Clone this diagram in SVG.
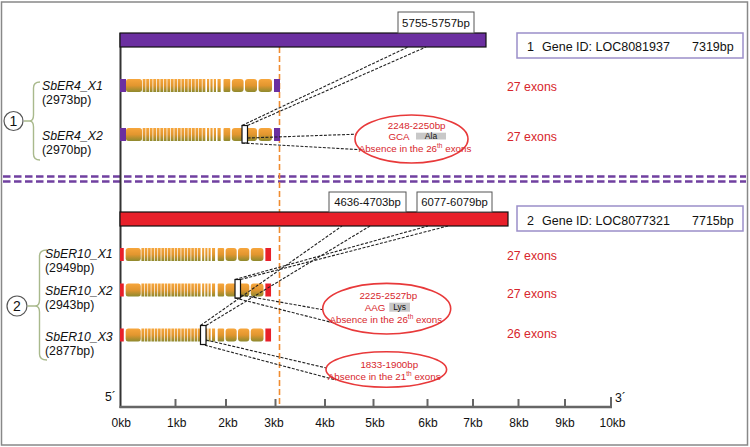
<svg xmlns="http://www.w3.org/2000/svg" width="750" height="447" viewBox="0 0 750 447">
<style>
text{font-family:"Liberation Sans",Arial,sans-serif;}
.lbl{font-size:12.3px;fill:#111;}
.it{font-style:italic;}
.red{fill:#d7262c;font-size:12.3px;}
.ell{fill:#fff;stroke:#e8393a;stroke-width:1.6;}
.et{fill:#d7262c;font-size:9.8px;text-anchor:middle;}
.box{fill:#fff;stroke:#555;stroke-width:1;}
.gid{fill:#fff;stroke:#9b8ec9;stroke-width:1.5;}
.dash{stroke:#222;stroke-width:1.1;stroke-dasharray:3 1.5;fill:none;}
.mk{fill:#fff;stroke:#111;stroke-width:1.2;}
.brace{fill:none;stroke:#a9b98c;stroke-width:1.4;}
.tick{stroke:#666;stroke-width:2;}
.ax{font-size:12px;fill:#111;text-anchor:middle;}
</style>
<defs>
<linearGradient id="og" gradientUnits="userSpaceOnUse" x1="0" y1="0" x2="0" y2="13">
<stop offset="0" stop-color="#f7a63c"/>
<stop offset="0.5" stop-color="#e2962f"/>
<stop offset="1" stop-color="#8e8a2e"/>
</linearGradient>
<g id="exons" fill="url(#og)">
<rect x="6" y="0" width="16" height="13" rx="2.5"/>
<line x1="22.7" y1="6.5" x2="86" y2="6.5" stroke="url(#og)" stroke-width="13" stroke-dasharray="2.8 0.72"/>
<rect x="87" y="0" width="2.2" height="13"/>
<rect x="90.4" y="0" width="2.2" height="13"/>
<rect x="93.8" y="0" width="2.2" height="13"/>
<rect x="97.5" y="0" width="3.2" height="13"/>
<rect x="103.5" y="0" width="6.8" height="13" rx="1"/>
<rect x="111.8" y="0" width="11.8" height="13" rx="3"/>
<rect x="125" y="0" width="12" height="13" rx="3"/>
<rect x="138.5" y="0" width="13.5" height="13" rx="3"/>
</g>
<g id="tx1">
<use href="#exons"/>
<rect x="0" y="0" width="6" height="13" fill="#6b2fa0"/>
<rect x="154" y="0" width="6" height="13" fill="#6b2fa0"/>
</g>
<g id="tx2">
<use href="#exons"/>
<rect x="0" y="0" width="4" height="13" fill="#e8202a"/>
<rect x="154" y="0" width="6" height="13" fill="#e8202a"/>
</g>
</defs>

<rect x="1.5" y="2" width="746" height="443" fill="#fff" stroke="#888" stroke-width="1.5"/>

<!-- separator -->
<g id="separator" stroke="#7040a0" stroke-width="2.5" stroke-dasharray="7.5 3.5">
<line x1="3" y1="176.5" x2="746" y2="176.5"/>
<line x1="3" y1="181.5" x2="746" y2="181.5"/>
</g>

<!-- axis -->
<g id="axis">
<line x1="120.5" y1="33" x2="120.5" y2="408" stroke="#333" stroke-width="2"/>
<line x1="119.5" y1="407" x2="612" y2="407" stroke="#666" stroke-width="2.5"/>
<line class="tick" x1="175.5" y1="399" x2="175.5" y2="407"/>
<line class="tick" x1="226" y1="399" x2="226" y2="407"/>
<line class="tick" x1="275.5" y1="399" x2="275.5" y2="407"/>
<line class="tick" x1="325" y1="399" x2="325" y2="407"/>
<line class="tick" x1="373.5" y1="399" x2="373.5" y2="407"/>
<line class="tick" x1="427.5" y1="399" x2="427.5" y2="407"/>
<line class="tick" x1="473" y1="399" x2="473" y2="407"/>
<line class="tick" x1="518.5" y1="399" x2="518.5" y2="407"/>
<line class="tick" x1="565" y1="399" x2="565" y2="407"/>
<line class="tick" x1="611" y1="397" x2="611" y2="408"/>
<text class="ax" x="121.3" y="426.5">0kb</text>
<text class="ax" x="176.7" y="426.5">1kb</text>
<text class="ax" x="228" y="426.5">2kb</text>
<text class="ax" x="274" y="426.5">3kb</text>
<text class="ax" x="325" y="426.5">4kb</text>
<text class="ax" x="375" y="426.5">5kb</text>
<text class="ax" x="428" y="426.5">6kb</text>
<text class="ax" x="473" y="426.5">7kb</text>
<text class="ax" x="519" y="426.5">8kb</text>
<text class="ax" x="565" y="426.5">9kb</text>
<text class="ax" x="612.5" y="426.5">10kb</text>
<text class="lbl" x="105" y="400.5">5´</text>
<text class="lbl" x="615" y="401.5">3´</text>
</g>

<!-- orange reference line -->
<line id="ref3kb" x1="279.5" y1="47" x2="279.5" y2="406" stroke="#f08c30" stroke-width="1.6" stroke-dasharray="6 3"/>

<!-- Gene 1 -->
<g id="gene1">
<rect x="120" y="33" width="366" height="14" fill="#6b2fa0" stroke="#111" stroke-width="1.2"/>
<rect class="box" x="398" y="12" width="76" height="21"/>
<text x="436" y="26.5" font-size="11.5" text-anchor="middle" fill="#111">5755-5757bp</text>
</g>
<g id="geneid1">
<rect class="gid" x="517" y="33" width="226" height="25"/>
<text x="527" y="50.5" font-size="12.5" fill="#111">1</text>
<text x="542" y="50.5" font-size="12.5" fill="#111">Gene ID: LOC8081937</text>
<text x="692" y="50.5" font-size="12.5" fill="#111">7319bp</text>
</g>

<g id="group1">
<circle cx="13.5" cy="121" r="9.5" fill="#fff" stroke="#555" stroke-width="1.2"/>
<text x="13.5" y="126" font-size="14" text-anchor="middle" fill="#111">1</text>
<path class="brace" d="M24 121 H29.5 M40 82 Q33.5 82 33.5 88 L33.5 115 Q33.5 121 29.5 121 Q33.5 121 33.5 127 L33.5 154 Q33.5 160 40 160"/>
</g>

<g id="SbER4_X1">
<use href="#tx1" transform="translate(120,79)"/>
<text class="lbl it" x="42" y="90">SbER4_X1</text>
<text class="lbl" x="42" y="103.5">(2973bp)</text>
<text class="red" x="507" y="90.5">27 exons</text>
</g>
<g id="SbER4_X2">
<use href="#tx1" transform="translate(120,128)"/>
<text class="lbl it" x="42" y="140">SbER4_X2</text>
<text class="lbl" x="42" y="153.5">(2970bp)</text>
<text class="red" x="507" y="140.5">27 exons</text>
</g>

<!-- Gene 2 -->
<g id="gene2">
<rect x="120" y="212" width="388" height="14" fill="#e8202a" stroke="#111" stroke-width="1.2"/>
<rect class="box" x="329" y="192" width="77" height="20"/>
<text x="367.5" y="206" font-size="11.3" text-anchor="middle" fill="#111">4636-4703bp</text>
<rect class="box" x="417" y="192" width="75" height="20"/>
<text x="454.5" y="206" font-size="11.3" text-anchor="middle" fill="#111">6077-6079bp</text>
</g>
<g id="geneid2">
<rect class="gid" x="517" y="206" width="226" height="25"/>
<text x="527" y="224.5" font-size="12.5" fill="#111">2</text>
<text x="542" y="224.5" font-size="12.5" fill="#111">Gene ID: LOC8077321</text>
<text x="692" y="224.5" font-size="12.5" fill="#111">7715bp</text>
</g>

<g id="group2">
<circle cx="17" cy="306" r="10" fill="#fff" stroke="#555" stroke-width="1.2"/>
<text x="17" y="311" font-size="14" text-anchor="middle" fill="#111">2</text>
<path class="brace" d="M27.5 306 H35 M47 250 Q39.5 250 39.5 256 L39.5 300 Q39.5 306 35 306 Q39.5 306 39.5 312 L39.5 354 Q39.5 360 47 360"/>
</g>

<g id="SbER10_X1">
<use href="#tx2" transform="translate(120,248) scale(0.944,1)"/>
<text class="lbl it" x="45" y="258">SbER10_X1</text>
<text class="lbl" x="45" y="271.5">(2949bp)</text>
<text class="red" x="507" y="259.5">27 exons</text>
</g>
<g id="SbER10_X2">
<use href="#tx2" transform="translate(120,283.5) scale(0.944,1)"/>
<text class="lbl it" x="45" y="295">SbER10_X2</text>
<text class="lbl" x="45" y="309">(2943bp)</text>
<text class="red" x="507" y="297.5">27 exons</text>
</g>
<g id="SbER10_X3">
<use href="#tx2" transform="translate(120,328.5) scale(0.944,1)"/>
<text class="lbl it" x="45" y="341">SbER10_X3</text>
<text class="lbl" x="45" y="354.5">(2877bp)</text>
<text class="red" x="507" y="337.5">26 exons</text>
</g>

<!-- connectors -->
<g id="connectors" class="dash">
<line x1="242" y1="125.5" x2="408" y2="47"/>
<line x1="247.5" y1="125.5" x2="426" y2="47"/>
<line x1="247.5" y1="138" x2="362" y2="134"/>
<line x1="242" y1="143" x2="366" y2="150"/>
<line x1="235" y1="279.5" x2="428" y2="226"/>
<line x1="240.5" y1="279.5" x2="448" y2="226"/>
<line x1="200.5" y1="325.5" x2="342" y2="226"/>
<line x1="206" y1="325.5" x2="370" y2="226"/>
<line x1="240.5" y1="295" x2="330" y2="311"/>
<line x1="235" y1="298" x2="334" y2="323"/>
<line x1="206" y1="340" x2="333" y2="369.5"/>
<line x1="200.5" y1="344" x2="336" y2="380"/>
</g>

<g id="markers">
<rect class="mk" x="242" y="125.5" width="5.5" height="17.5"/>
<rect class="mk" x="235" y="279.5" width="5.5" height="18.5"/>
<rect class="mk" x="200.5" y="325.5" width="5.5" height="19"/>
</g>

<g id="note1">
<ellipse class="ell" cx="411.5" cy="139" rx="56.5" ry="24"/>
<text class="et" x="416.7" y="128.5">2248-2250bp</text>
<text class="et" x="399" y="139.8">GCA</text>
<rect x="416" y="132.7" width="30" height="6.8" fill="#c8c8c8"/>
<text x="431" y="139" font-size="8.5" text-anchor="middle" fill="#111">Ala</text>
<text class="et" x="415" y="151.5">Absence in the 26<tspan dy="-3.5" font-size="6.5">th</tspan><tspan dy="3.5"> exons</tspan></text>
</g>
<g id="note2">
<ellipse class="ell" cx="386.7" cy="308.7" rx="64" ry="25.3"/>
<text class="et" x="388.3" y="298.5">2225-2527bp</text>
<text class="et" x="375" y="310.5">AAG</text>
<rect x="389.3" y="302.7" width="20.7" height="9" fill="#c8c8c8"/>
<text x="399.6" y="310.3" font-size="8.5" text-anchor="middle" fill="#111">Lys</text>
<text class="et" x="385.8" y="322.8">Absence in the 26<tspan dy="-3.5" font-size="6.5">th</tspan><tspan dy="3.5"> exons</tspan></text>
</g>
<g id="note3">
<ellipse class="ell" cx="386.3" cy="369.5" rx="60.3" ry="17.8"/>
<text class="et" x="389.3" y="367.8">1833-1900bp</text>
<text class="et" x="384.2" y="379.5">Absence in the 21<tspan dy="-3.5" font-size="6.5">th</tspan><tspan dy="3.5"> exons</tspan></text>
</g>
</svg>
